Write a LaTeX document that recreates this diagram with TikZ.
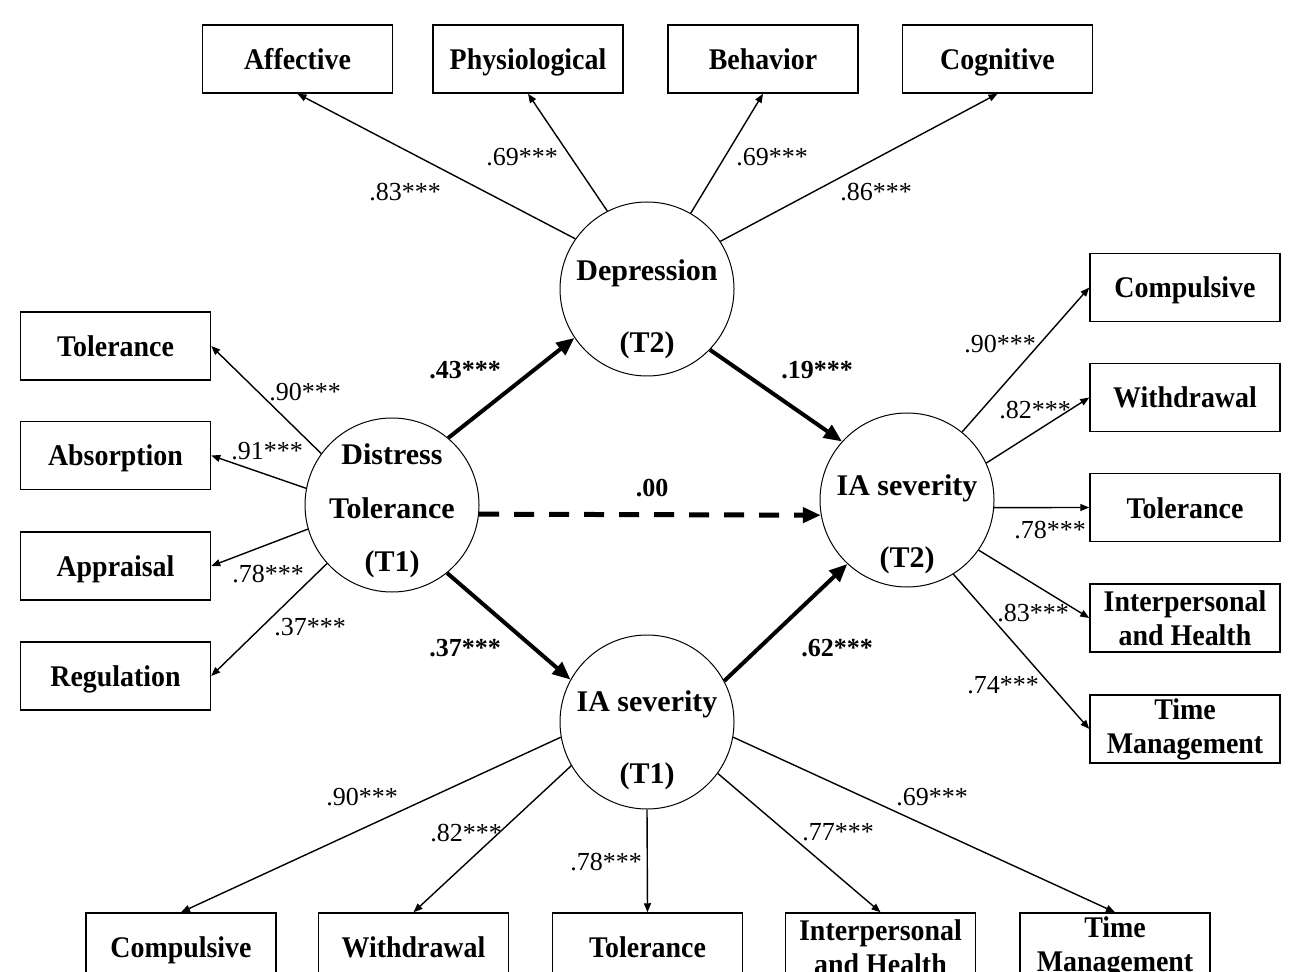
\documentclass[tikz,border=0pt]{standalone}
\usepackage{fontspec}
\setmainfont{Liberation Serif}
\newfontfamily\boxserif[FakeStretch=0.93]{Liberation Serif}
\usetikzlibrary{arrows.meta}

\tikzset{
    obs/.style={draw, line width=0.75pt, minimum width=95pt, minimum height=34pt, inner sep=1pt, align=center, font=\boxserif\fontsize{15}{17}\selectfont\bfseries},
    obsone/.style={obs, text height=12.5pt, text depth=2pt},
    latent/.style={draw, circle, line width=0.5pt, minimum size=87pt, inner sep=0pt},
    lattext/.style={align=center, font=\fontsize{15}{36}\selectfont\bfseries},
    loading/.style={-{Triangle[length=4.5pt,width=3.5pt]}, line width=0.7pt},
    structural/.style={-{Triangle[length=9pt,width=7.5pt]}, line width=2pt},
    coef/.style={font=\fontsize{13}{15}\selectfont},
    bcoef/.style={font=\fontsize{13}{15}\selectfont\bfseries},
}

\begin{document}
\begin{tikzpicture}[x=0.5pt, y=-0.5pt]
    \useasboundingbox (0,0) rectangle (1299,972);

    % latent variables
    \node[latent] (dt)  at (392,505) {};
    \node[latent] (dep) at (647,289) {};
    \node[latent] (ia1) at (647,722) {};
    \node[latent] (ia2) at (907,500) {};
    \node[lattext, font=\fontsize{15}{26.75}\selectfont\bfseries] (dttext) at (392,511) {Distress\\Tolerance\\(T1)};
    \node[lattext] (deptext) at (647,309) {Depression\\(T2)};
    \node[lattext] (ia1text) at (647,740) {IA severity\\(T1)};
    \node[lattext] (ia2text) at (907,524) {IA severity\\(T2)};

    % depression indicators
    \node[obsone] (aff)  at (297.5,59) {Affective};
    \node[obsone] (phys) at (528,59)   {Physiological};
    \node[obsone] (beh)  at (763,59)   {Behavior};
    \node[obsone] (cog)  at (997.5,59) {Cognitive};

    % distress tolerance indicators
    \node[obsone] (ltol) at (115.5,346)   {Tolerance};
    \node[obsone] (labs) at (115.5,455.5) {Absorption};
    \node[obsone] (lapp) at (115.5,566)   {Appraisal};
    \node[obsone] (lreg) at (115.5,676)   {Regulation};

    % IA severity (T2) indicators
    \node[obsone] (rcomp) at (1185,287.5) {Compulsive};
    \node[obsone] (rwith) at (1185,397.5) {Withdrawal};
    \node[obsone] (rtol)  at (1185,507.5) {Tolerance};
    \node[obs]    (rint)  at (1185,618)   {Interpersonal\\and Health};
    \node[obs]    (rtime) at (1185,729)   {Time\\Management};

    % IA severity (T1) indicators
    \node[obsone] (bcomp) at (181,947)    {Compulsive};
    \node[obsone] (bwith) at (413.5,947)  {Withdrawal};
    \node[obsone] (btol)  at (647.5,947)  {Tolerance};
    \node[obs]    (bint)  at (880.5,947)  {Interpersonal\\and Health};
    \node[obs]    (btime) at (1115,947)   {Time\\Management};

    % loadings
    \draw[loading] (dep.145) -- (aff.south);
    \draw[loading] (dep.117) -- (phys.south);
    \draw[loading] (dep.60)  -- (beh.south);
    \draw[loading] (dep.33)  -- (cog.south);
    \draw[loading] (dt.144) -- (ltol.east);
    \draw[loading] (dt.169) -- (labs.east);
    \draw[loading] (dt.196) -- (lapp.east);
    \draw[loading] (dt.222) -- (lreg.east);
    \draw[loading] (ia2.51)  -- (rcomp.west);
    \draw[loading] (ia2.25)  -- (rwith.west);
    \draw[loading] (ia2.355) -- (rtol.west);
    \draw[loading] (ia2.325) -- (rint.west);
    \draw[loading] (ia2.302) -- (rtime.west);
    \draw[loading] (ia1.190)   -- (bcomp.north);
    \draw[loading] (ia1.210)   -- (bwith.north);
    \draw[loading] (ia1.south) -- (btol.north);
    \draw[loading] (ia1.324)   -- (bint.north);
    \draw[loading] (ia1.350)   -- (btime.north);

    % structural paths
    \draw[structural] (dt.50)  -- (dep.214);
    \draw[structural] (dt.309) -- (ia1.151);
    \draw[structural, line width=2.5pt, dash pattern=on 10pt off 7.5pt] (dt.354) -- (ia2.190);
    \draw[structural] (dep.316) -- (ia2.138);
    \draw[structural] (ia1.28)  -- (ia2.227);

    % coefficients
    \node[coef] (caff)  at (405,192) {.83***};
    \node[coef] (cphys) at (522,157) {.69***};
    \node[coef] (cbeh)  at (772,157) {.69***};
    \node[coef] (ccog)  at (876,192) {.86***};
    \node[coef] (cltol) at (305,392) {.90***};
    \node[coef] (clabs) at (267,451) {.91***};
    \node[coef] (clapp) at (268,574) {.78***};
    \node[coef] (clreg) at (310,627) {.37***};
    \node[coef] (crcomp) at (1000,344) {.90***};
    \node[coef] (crwith) at (1035,410) {.82***};
    \node[coef] (crtol)  at (1050,530) {.78***};
    \node[coef] (crint)  at (1033,613) {.83***};
    \node[coef] (crtime) at (1003,685) {.74***};
    \node[coef] (cbcomp) at (362,797) {.90***};
    \node[coef] (cbwith) at (466,833) {.82***};
    \node[coef] (cbtol)  at (606,862) {.78***};
    \node[coef] (cbint)  at (838,832) {.77***};
    \node[coef] (cbtime) at (932,797) {.69***};
    \node[bcoef] (cdtdep) at (465,370) {.43***};
    \node[bcoef] (cdtia)  at (465,648) {.37***};
    \node[bcoef] (cdtia2) at (652,488) {.00};
    \node[bcoef] (cdepia) at (817,370) {.19***};
    \node[bcoef] (ciaia)  at (837,648) {.62***};
\end{tikzpicture}
\end{document}
